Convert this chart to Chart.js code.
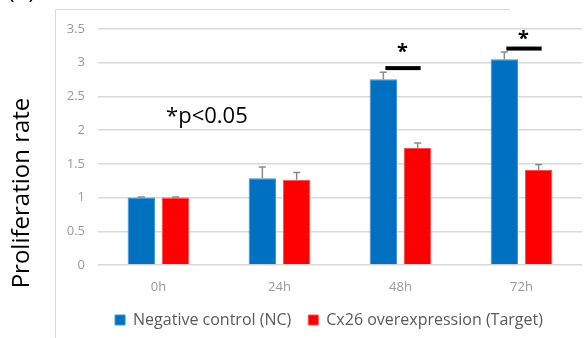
<!DOCTYPE html>
<html lang="en">
<head>
  <meta charset="UTF-8">
  <title>Proliferation rate</title>
  <script src="https://cdn.jsdelivr.net/npm/chart.js"></script>
  <style>
    body { margin: 0; background: white; }
    .wrap { width: 588px; height: 338px; position: relative; }
  </style>
</head>
<body>
  <div class="wrap"><canvas id="prolifChart" width="588" height="338"></canvas></div>

  <script>
    // data
    const timePoints = ['0h', '24h', '48h', '72h'];
    const ncValues = [1.0, 1.285, 2.755, 3.05];
    const ncErrors = [0.01, 0.17, 0.105, 0.11];
    const targetValues = [1.0, 1.265, 1.735, 1.41];
    const targetErrors = [0.01, 0.105, 0.075, 0.08];
    const yTickLabels = ['0', '0.5', '1', '1.5', '2', '2.5', '3', '3.5'];

    // significance markers: category, bar height, star height
    const sigCats = ['48h', '72h'];
    const sigLineValues = [2.92, 3.21];
    const sigStarValues = [3.27, 3.46];

    const blue = '#0070C0';
    const red = '#FF0000';
    const gridGrey = '#D9D9D9';
    const labelGrey = '#999999';

    const errorBars = {
      id: 'errorBars',
      afterDatasetsDraw(chart) {
        const ctx = chart.ctx;
        const yScale = chart.scales.y;
        const errs = [ncErrors, targetErrors];
        ctx.save();
        ctx.strokeStyle = '#8A8A8A';
        ctx.lineWidth = 1.5;
        chart.data.datasets.forEach((ds, di) => {
          chart.getDatasetMeta(di).data.forEach((bar, i) => {
            const top = yScale.getPixelForValue(ds.data[i] + errs[di][i]);
            ctx.beginPath();
            ctx.moveTo(bar.x, bar.y);
            ctx.lineTo(bar.x, top);
            ctx.moveTo(bar.x - 3.5, top);
            ctx.lineTo(bar.x + 3.5, top);
            ctx.stroke();
          });
        });
        ctx.restore();
      }
    };

    // legend sits a little right of centre in the original
    const legendNudge = {
      id: 'legendNudge',
      afterLayout(chart) {
        chart.legend.left += 6;
        chart.legend.right += 6;
      }
    };

    const extras = {
      id: 'extras',
      afterDraw(chart) {
        const ctx = chart.ctx;
        const xScale = chart.scales.x;
        const yScale = chart.scales.y;
        ctx.save();

        // outer frame (top and left edges only visible)
        ctx.strokeStyle = '#D9D9D9';
        ctx.lineWidth = 1;
        ctx.beginPath();
        ctx.moveTo(510, 9.5);
        ctx.lineTo(55.5, 9.5);
        ctx.lineTo(55.5, 338);
        ctx.stroke();

        // panel letter, clipped at the top
        ctx.fillStyle = '#000';
        ctx.font = '22px "Open Sans", sans-serif';
        ctx.textBaseline = 'alphabetic';
        ctx.textAlign = 'left';
        ctx.fillText('(A)', 8, -1);

        // y axis title
        ctx.save();
        ctx.translate(22, 193);
        ctx.rotate(-Math.PI / 2);
        ctx.textAlign = 'center';
        ctx.textBaseline = 'middle';
        ctx.font = '24px "Open Sans", sans-serif';
        ctx.fillText('Proliferation rate', 0, 0);
        ctx.restore();

        // p-value note
        ctx.font = '22px "Open Sans", sans-serif';
        ctx.textAlign = 'center';
        ctx.textBaseline = 'middle';
        ctx.fillText('*p<0.05', xScale.getPixelForValue(0.4), yScale.getPixelForValue(2.2));

        // significance bars and stars
        sigCats.forEach((cat, k) => {
          const idx = timePoints.indexOf(cat);
          const b0 = chart.getDatasetMeta(0).data[idx];
          const b1 = chart.getDatasetMeta(1).data[idx];
          const ly = yScale.getPixelForValue(sigLineValues[k]);
          ctx.fillRect(b0.x + 2, ly - 2, b1.x - b0.x + 1, 4);
          ctx.font = 'bold 20px "Open Sans", sans-serif';
          ctx.fillText('*', xScale.getPixelForValue(idx) + 2, yScale.getPixelForValue(sigStarValues[k]) + 8);
        });
        ctx.restore();
      }
    };

    const ctx = document.getElementById('prolifChart').getContext('2d');
    new Chart(ctx, {
      type: 'bar',
      data: {
        labels: timePoints,
        datasets: [
          {
            label: 'Negative control (NC)',
            data: ncValues,
            backgroundColor: blue,
            borderColor: '#3F8FD0',
            borderWidth: 1
          },
          {
            label: 'Cx26 overexpression (Target)',
            data: targetValues,
            backgroundColor: red,
            borderColor: '#FF4A4A',
            borderWidth: 1
          }
        ]
      },
      options: {
        responsive: false,
        animation: false,
        devicePixelRatio: 1,
        categoryPercentage: 0.567,
        barPercentage: 0.8,
        layout: { padding: { left: 64, right: 6, top: 29, bottom: 0 } },
        plugins: {
          tooltip: { enabled: false },
          legend: {
            position: 'bottom',
            labels: {
              boxWidth: 10,
              boxHeight: 10,
              padding: 17,
              color: '#595959',
              font: { family: 'Open Sans', size: 16 }
            }
          }
        },
        scales: {
          x: {
            grid: { display: false, drawTicks: false },
            border: { display: false },
            ticks: {
              color: labelGrey,
              font: { family: 'Open Sans', size: 13 },
              padding: 14,
              autoSkip: false,
              maxRotation: 0
            },
            afterFit(scale) { scale.height = 30; }
          },
          y: {
            min: 0,
            max: 3.5,
            ticks: {
              stepSize: 0.5,
              color: labelGrey,
              font: { family: 'Open Sans', size: 13 },
              padding: 13,
              callback: (v, i) => yTickLabels[i]
            },
            grid: { color: gridGrey, lineWidth: 1.5, drawTicks: false },
            border: { display: false },
            afterFit(scale) { scale.width = 34; }
          }
        }
      },
      plugins: [errorBars, legendNudge, extras]
    });
  </script>
</body>
</html>
